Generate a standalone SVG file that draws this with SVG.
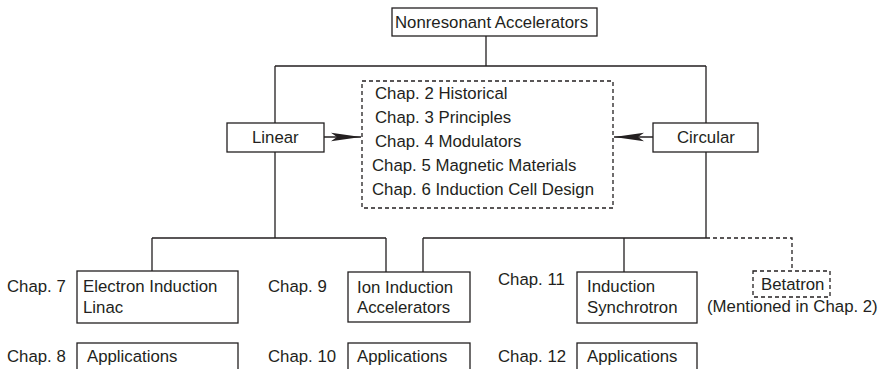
<svg xmlns="http://www.w3.org/2000/svg" width="887" height="369" viewBox="0 0 887 369">
<style>
text{font-family:"Liberation Sans",Arial,sans-serif;font-size:16.8px;fill:#231f20}
.box{fill:#fff;stroke:#231f20;stroke-width:1.3}
.dbox{fill:#fff;stroke:#231f20;stroke-width:1.3;stroke-dasharray:4 3}
.ln{fill:none;stroke:#231f20;stroke-width:1.3}
.dln{fill:none;stroke:#231f20;stroke-width:1.3;stroke-dasharray:4 3}
</style>
<defs>
<marker id="ah" viewBox="0 0 30 10" refX="30" refY="5" markerWidth="30" markerHeight="10" markerUnits="userSpaceOnUse" orient="auto">
<path d="M0,0.8 L30,5 L0,9.2 L6,5 Z" fill="#231f20"/>
</marker>
</defs>
<g id="connectors">
<path class="ln" d="M486,36 V66 M275,66 H706 M275,66 V123 M706,66 V123"/>
<path class="ln" d="M324,137 H361" marker-end="url(#ah)"/>
<path class="ln" d="M653,137 H614" marker-end="url(#ah)"/>
<path class="ln" d="M275,152 V238 M152,238 H386 M152,238 V271 M386,238 V272"/>
<path class="ln" d="M706,152 V238 M423,238 H706 M423,238 V272 M624,238 V272"/>
<path class="dln" d="M706,238 H792 V271"/>
</g>
<g id="top"><rect class="box" x="392" y="8" width="205" height="28"/><text x="395" y="28">Nonresonant Accelerators</text></g>
<g id="chapters"><rect class="dbox" x="362" y="81" width="251" height="127"/>
<text x="375" y="99">Chap. 2 Historical</text>
<text x="375" y="123">Chap. 3 Principles</text>
<text x="375" y="147">Chap. 4 Modulators</text>
<text x="372" y="171">Chap. 5 Magnetic Materials</text>
<text x="372" y="195">Chap. 6 Induction Cell Design</text></g>
<g id="linear"><rect class="box" x="227" y="123" width="97" height="29"/><text x="252" y="143">Linear</text></g>
<g id="circular"><rect class="box" x="653" y="123" width="105" height="29"/><text x="677" y="143">Circular</text></g>
<g id="electron"><text x="7" y="292">Chap. 7</text><rect class="box" x="77" y="271" width="161" height="52"/><text x="83" y="292">Electron Induction</text><text x="83" y="313">Linac</text></g>
<g id="ion"><text x="268" y="292">Chap. 9</text><rect class="box" x="348" y="272" width="122" height="50"/><text x="357" y="293">Ion Induction</text><text x="357" y="313">Accelerators</text></g>
<g id="synchrotron"><text x="498" y="285">Chap. 11</text><rect class="box" x="577" y="272" width="120" height="51"/><text x="587" y="292">Induction</text><text x="587" y="313">Synchrotron</text></g>
<g id="betatron"><rect class="dbox" x="753" y="271" width="77" height="26"/><text x="761" y="290">Betatron</text><text x="707" y="312">(Mentioned in Chap. 2)</text></g>
<g id="app1"><text x="7" y="362">Chap. 8</text><rect class="box" x="77" y="343" width="161" height="40"/><text x="87" y="362">Applications</text></g>
<g id="app2"><text x="268" y="362">Chap. 10</text><rect class="box" x="348" y="343" width="122" height="40"/><text x="357" y="362">Applications</text></g>
<g id="app3"><text x="498" y="362">Chap. 12</text><rect class="box" x="577" y="343" width="120" height="40"/><text x="587" y="362">Applications</text></g>
</svg>
